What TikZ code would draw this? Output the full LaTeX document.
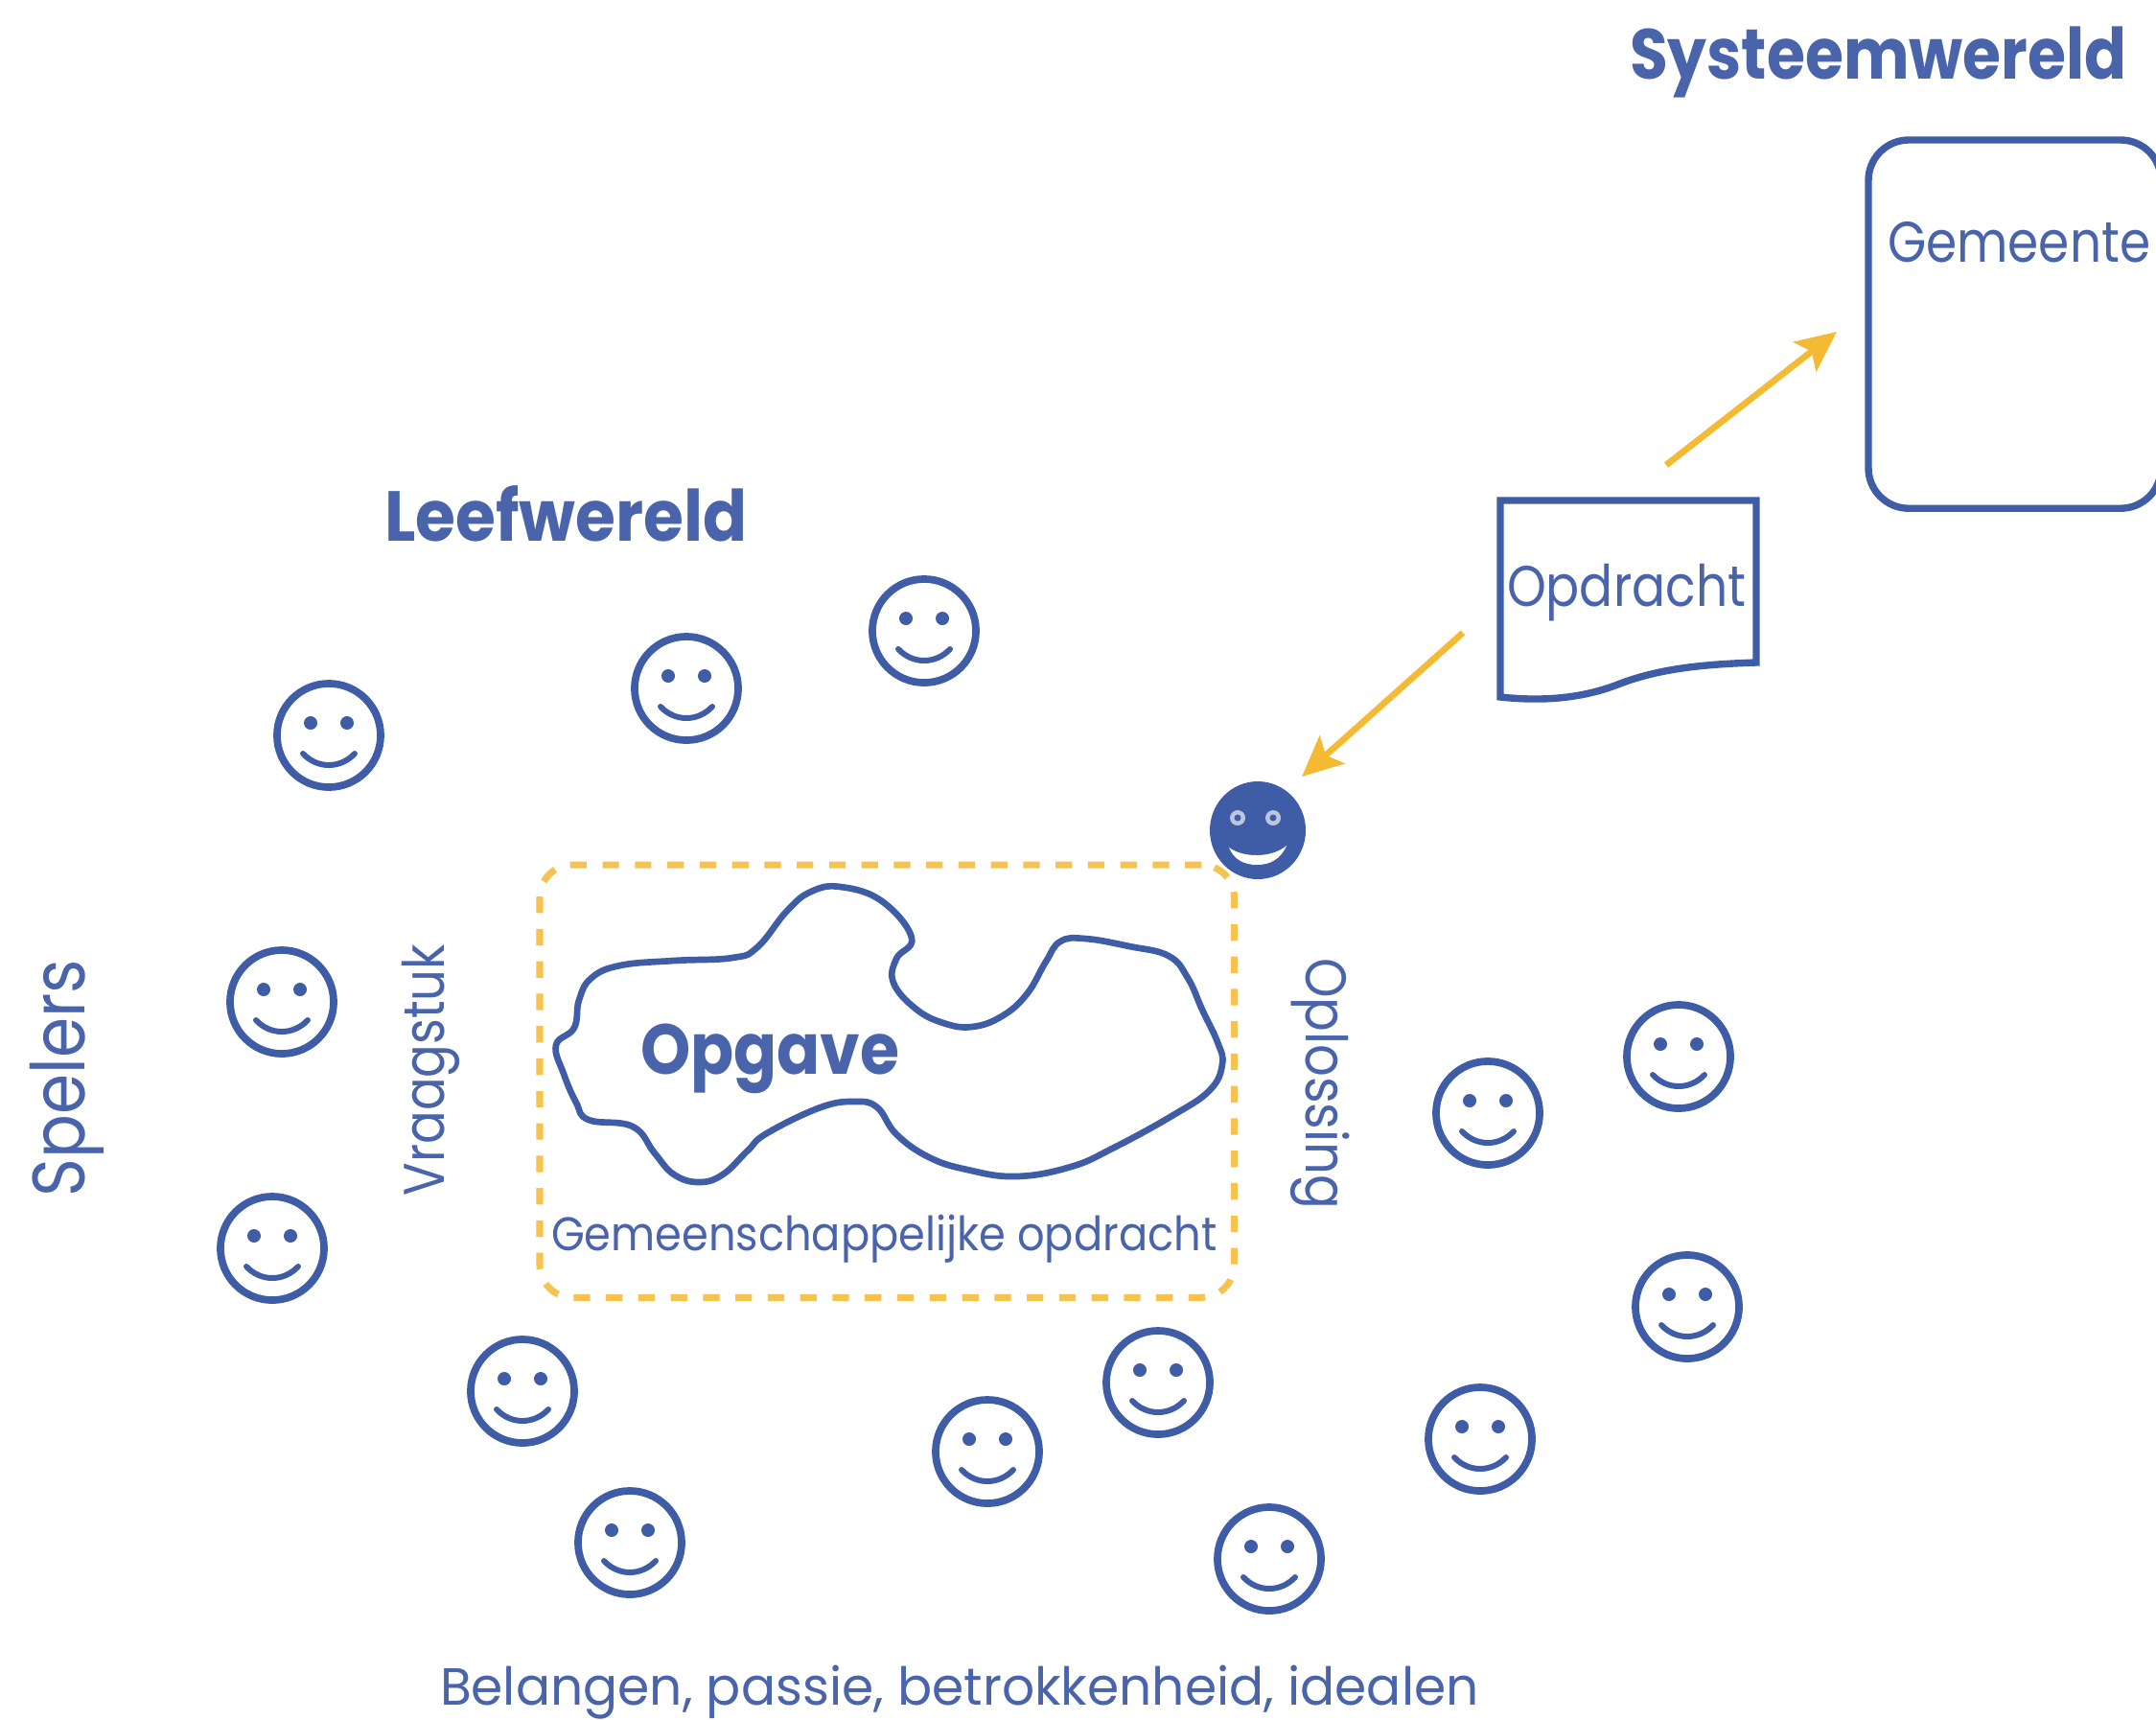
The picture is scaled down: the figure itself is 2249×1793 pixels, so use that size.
\documentclass[tikz,border=0pt]{standalone}
\usepackage{graphicx}
\usepackage{fontspec}
\setmainfont{Poppins}
\usetikzlibrary{arrows.meta}
\definecolor{bl}{HTML}{3F5DA6}
\definecolor{txt}{HTML}{4A64AC}
\definecolor{orng}{HTML}{F5BA33}
\definecolor{dsh}{HTML}{F6C350}
\newcommand\fitw[2]{\resizebox{#1}{\height}{#2}}
\tikzset{
  lbl/.style={inner sep=0pt,outer sep=0pt,text=txt,anchor=base west},
  facering/.style={circle,draw=bl,line width=2.2pt,minimum size=1.08cm,inner sep=0pt,outer sep=0pt},
  eye/.style={fill=bl},
  smile/.style={draw=bl,line width=1.7pt,line cap=round},
  arr/.style={draw=orng,line width=1.9pt,-{Stealth[length=12pt,width=11pt,inset=2.5pt]}}
}
\newcommand\face[3]{%
  \node[facering] (#1) at (#2,#3+1) {};
  \begin{scope}[shift={(#2,#3+1)}]
    \fill[eye] (-19,-13) circle[radius=7];
    \fill[eye] (19,-13) circle[radius=7];
    \draw[smile] (-27,19) .. controls (-12,35) and (12,35) .. (27,19);
  \end{scope}}
\begin{document}
\begin{tikzpicture}[x=0.01cm,y=-0.01cm]
\useasboundingbox (0,0) rectangle (2249,1793);
\fill[white] (0,0) rectangle (2249,1793);

% headings
\node[lbl,font=\fontsize{21pt}{24pt}\selectfont\bfseries] (sys) at (1700,82) {\fitw{5.18cm}{Systeemwereld}};
\node[lbl,font=\fontsize{21pt}{24pt}\selectfont\bfseries] (leef) at (401,564) {\fitw{3.78cm}{Leefwereld}};

% gemeente
\node[draw=bl,line width=2.1pt,rounded corners=0.42cm,minimum width=3.05cm,minimum height=3.84cm,inner sep=0pt,outer sep=0pt,anchor=north west] (gem) at (1949,146) {};
\node[lbl,font=\fontsize{17pt}{20pt}\selectfont] (gemt) at (1969,273) {\fitw{2.74cm}{Gemeente}};

% opdracht document
\draw[bl,line width=2.1pt] (1565,522) -- (1832,522) -- (1832,691)
  .. controls (1772,693) and (1730,698) .. (1690,713)
  .. controls (1660,725) and (1620,733) .. (1565,727) -- cycle;
\node[lbl,font=\fontsize{17pt}{20pt}\selectfont] (opd) at (1572,632) {\fitw{2.49cm}{Opdracht}};

% arrows
\coordinate (a1s) at (1738,485);
\coordinate (a1e) at (1916,346);
\coordinate (a2s) at (1526,660);
\coordinate (a2e) at (1358,810);
\draw[arr] (a1s) -- (a1e);
\draw[arr] (a2s) -- (a2e);

% filled face
\fill[bl] (1312,866) ellipse[x radius=50,y radius=51];
\node[circle,minimum size=0.16cm,inner sep=0pt,fill=bl!35!white] (fe1) at (1291,853) {};
\node[circle,minimum size=0.16cm,inner sep=0pt,fill=bl!35!white] (fe2) at (1328,853) {};
\fill[bl] (1291,853) circle[radius=3.5];
\fill[bl] (1328,853) circle[radius=3.5];
\fill[white] (1282,884) .. controls (1297,895) and (1327,895) .. (1342,882)
  .. controls (1336,896) and (1325,902) .. (1311,902)
  .. controls (1297,902) and (1287,896) .. (1282,884) -- cycle;

% dashed frame
\node[draw=dsh,line width=2pt,dash pattern=on 4.9pt off 4.7pt,rounded corners=0.34cm,minimum width=7.24cm,minimum height=4.51cm,inner sep=0pt,outer sep=0pt,anchor=north west] (frame) at (563,902) {};

% blob
\draw[bl,line width=1.9pt] plot[smooth cycle,tension=0.7] coordinates {
(877,925)(920,940)(951,978)(935,1000)(932,1025)(955,1052)(984,1067)(1014,1071)(1045,1060)(1071,1037)(1091,1003)(1106,982)(1132,979)(1178,987)(1219,997)(1239,1020)(1254,1053)(1270,1087)(1275,1110)(1262,1137)(1224,1163)(1162,1197)(1117,1217)(1060,1227)(1009,1220)(969,1207)(935,1183)(915,1155)(892,1149)(856,1155)(800,1182)(780,1200)(754,1225)(729,1233)(703,1225)(683,1203)(660,1175)(614,1168)(601,1150)(588,1120)(580,1090)(599,1072)(604,1043)(617,1020)(647,1007)(703,1002)(764,999)(790,988)(821,950)(846,930)};
\node[lbl,font=\fontsize{21pt}{24pt}\selectfont\bfseries] (opg) at (668,1120) {\fitw{2.70cm}{Opgave}};
\node[lbl,font=\fontsize{14pt}{17pt}\selectfont] (gemop) at (575,1304) {\fitw{6.94cm}{Gemeenschappelijke opdracht}};

% side labels
\node[lbl,rotate=90,font=\fontsize{22pt}{25pt}\selectfont] (spel) at (88,1248) {\fitw{2.47cm}{Spelers}};
\node[lbl,rotate=90,font=\fontsize{17pt}{20pt}\selectfont] (vraag) at (463,1247) {\fitw{2.62cm}{Vraagstuk}};
\node[lbl,rotate=-90,font=\fontsize{17pt}{20pt}\selectfont] (opl) at (1362,999) {\fitw{2.62cm}{Oplossing}};
\node[lbl,font=\fontsize{15.5pt}{18pt}\selectfont] (bel) at (459,1778) {\fitw{10.83cm}{Belangen, passie, betrokkenheid, idealen}};

% faces
\face{f1}{343}{766}
\face{f2}{716}{717}
\face{f3}{964}{657}
\face{f4}{294}{1044}
\face{f5}{284}{1301}
\face{f6}{545}{1450}
\face{f7}{657}{1608}
\face{f8}{1030}{1513}
\face{f9}{1208}{1441}
\face{f10}{1324}{1625}
\face{f11}{1544}{1500}
\face{f12}{1760}{1362}
\face{f13}{1552}{1160}
\face{f14}{1751}{1101}
\end{tikzpicture}
\end{document}
